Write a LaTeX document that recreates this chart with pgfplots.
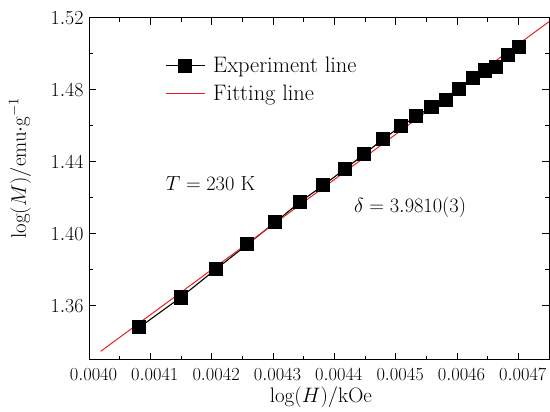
\RequirePackage{fix-cm}
\documentclass[border=0pt]{standalone}
\usepackage{pgfplots}
\pgfplotsset{compat=1.18}
\definecolor{fitred}{RGB}{235,30,35}
\begin{document}
\begin{tikzpicture}
\useasboundingbox (0,0) rectangle (550bp,412bp);
\begin{axis}[
  scale only axis,
  width=460bp, height=342bp,
  at={(89bp,52.3bp)}, anchor=south west,
  xmin=0.0040, xmax=0.00475,
  ymin=1.33, ymax=1.52,
  xtick={0.0040,0.0041,0.0042,0.0043,0.0044,0.0045,0.0046,0.0047},
  ytick={1.36,1.40,1.44,1.48,1.52},
  minor x tick num=1, minor y tick num=1,
  scaled x ticks=false, scaled y ticks=false,
  xticklabel style={/pgf/number format/fixed, /pgf/number format/fixed zerofill, /pgf/number format/precision=4},
  yticklabel style={/pgf/number format/fixed, /pgf/number format/fixed zerofill, /pgf/number format/precision=2},
  tick align=inside,
  major tick length=7bp, minor tick length=4bp,
  axis line style={line width=0.9bp},
  every tick/.style={black, line width=0.8bp},
  xticklabel style={font=\fontsize{18.5}{21}\selectfont, xshift=4.5bp, yshift=-5bp},
  yticklabel style={font=\fontsize{20}{23}\selectfont, xshift=-2bp},
  xlabel={$\log(H)/$kOe},
  ylabel={$\log(M)/$emu$\cdot$g$^{-1}$},
  label style={font=\fontsize{21}{24}\selectfont},
  xlabel style={at={(rel axis cs:0.504,0)}, anchor=center, yshift=-38bp},
  ylabel style={at={(rel axis cs:0,0.56)}, anchor=center, yshift=69bp},
  legend style={draw=none, fill=none, font=\fontsize{22.5}{26}\selectfont,
    at={(rel axis cs:0.165,0.891)}, anchor=north west, row sep=7bp, inner sep=0pt,
    /tikz/every odd column/.append style={column sep=6bp}},
  legend cell align=left,
  legend image code/.code={\draw[mark repeat=2,mark phase=2,#1] plot coordinates {(0bp,0bp) (19.5bp,0bp) (39bp,0bp)};},
  clip=true,
]
\addplot[black, line width=1.1bp, mark=square*, mark size=6.5bp, mark options={fill=black, solid}] coordinates {
(0.0040819,1.34792)
(0.0041493,1.36454)
(0.0042067,1.38022)
(0.0042583,1.39407)
(0.0043039,1.40643)
(0.0043440,1.41762)
(0.0043821,1.42693)
(0.0044167,1.43579)
(0.0044488,1.44421)
(0.0044791,1.45252)
(0.0045084,1.45961)
(0.0045335,1.46515)
(0.0045584,1.47036)
(0.0045823,1.47440)
(0.0046039,1.48061)
(0.0046256,1.48643)
(0.0046458,1.49064)
(0.0046642,1.49285)
(0.0046832,1.49917)
(0.0047016,1.50393)
};
\addlegendentry{Experiment line}
\addplot[fitred, line width=1bp] coordinates {
(0.004019,1.33463)
(0.00475,1.5178)
};
\addlegendentry{Fitting line}
\node[anchor=west, inner sep=0pt, font=\fontsize{20.5}{24}\selectfont] at (rel axis cs:0.1667,0.5137) {$T=230$ K};
\node[anchor=west, inner sep=0pt, font=\fontsize{20.5}{24}\selectfont] at (rel axis cs:0.576,0.4465) {$\delta=3.9810(3)$};
\end{axis}
\end{tikzpicture}
\end{document}
